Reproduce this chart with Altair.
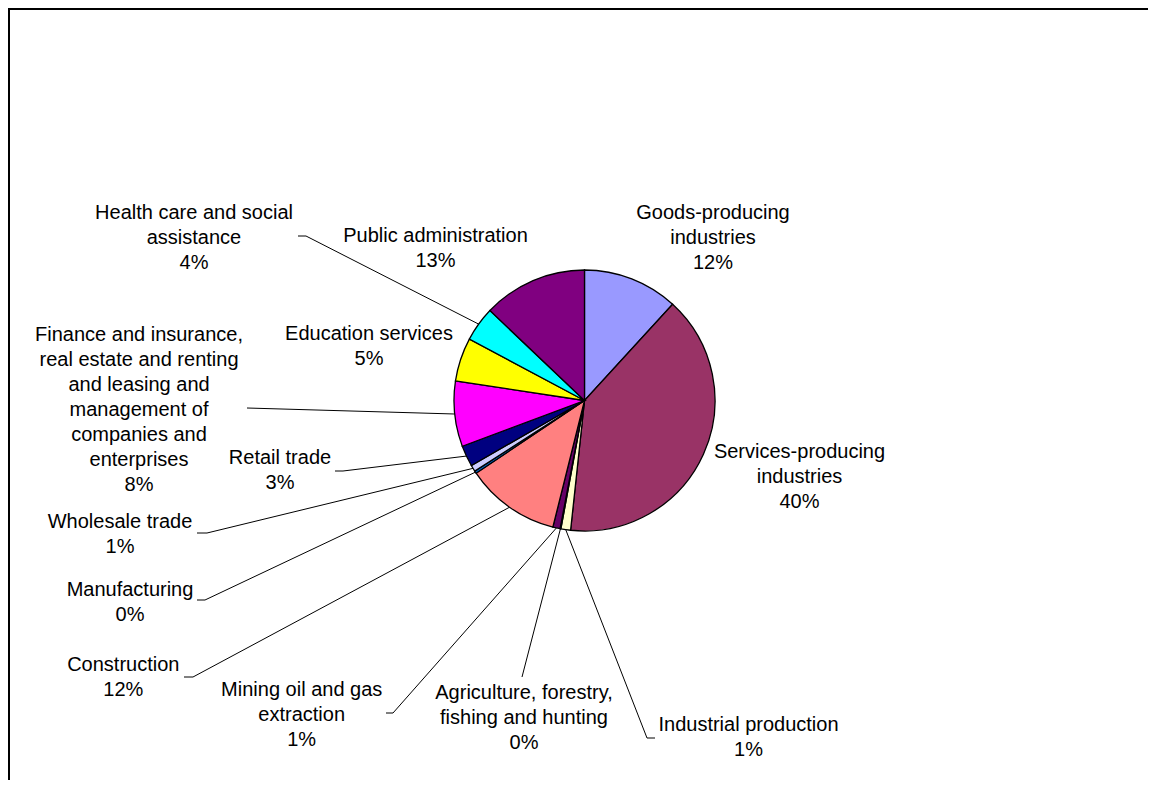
import math
import altair as alt
import pandas as pd

# ---------------- data ----------------
categories = [
    "Goods-producing industries",
    "Services-producing industries",
    "Industrial production",
    "Agriculture, forestry, fishing and hunting",
    "Mining oil and gas extraction",
    "Construction",
    "Manufacturing",
    "Wholesale trade",
    "Retail trade",
    "Finance and insurance, real estate and renting and leasing and management of companies and enterprises",
    "Education services",
    "Health care and social assistance",
    "Public administration",
]
shares = [11.8, 39.9, 1.2, 0.1, 0.9, 11.7, 0.3, 0.8, 2.6, 8.1, 5.4, 4.3, 12.9]
label_lines = [
    ["Goods-producing", "industries"],
    ["Services-producing", "industries"],
    ["Industrial production"],
    ["Agriculture, forestry,", "fishing and hunting"],
    ["Mining oil and gas", "extraction"],
    ["Construction"],
    ["Manufacturing"],
    ["Wholesale trade"],
    ["Retail trade"],
    ["Finance and insurance,", "real estate and renting", "and leasing and",
     "management of", "companies and", "enterprises"],
    ["Education services"],
    ["Health care and social", "assistance"],
    ["Public administration"],
]
colors = ["#9999FF", "#993366", "#FFFFCC", "#CCFFFF", "#660066", "#FF8080",
          "#0066CC", "#CCCCFF", "#000080", "#FF00FF", "#FFFF00", "#00FFFF", "#800080"]

# ---------------- layout (chart pixel coords) ----------------
W, H = 1140, 772
OFF = 8
CX, CY, R = 584.5 - OFF, 400.5 - OFF, 130.5
# label centre x and first-line centre y (page coords)
label_pos = [
    (713, 213.3), (799.5, 451.7), (748.5, 725), (524, 693), (301.7, 690),
    (123.3, 665), (130, 590), (120, 521.7), (280, 458.3), (139, 335),
    (369, 334), (194, 213), (435.5, 235.7),
]
# leader start and tick end (page coords); None = no leader
leader_start = [
    None, None, [(655, 738), (647, 738)], [(522, 677)], [(386, 713), (393, 713)],
    [(184, 677), (193, 677)], [(197, 600), (205, 600)], [(197, 533), (207, 533)],
    [(335, 471), (343, 471)], [(247, 408)], None, [(298, 236), (306, 236)], None,
]

# ---------------- tables ----------------
pie_df = pd.DataFrame({
    "category": categories,
    "share": shares,
    "idx": list(range(len(categories))),
})

txt_rows = []
for i, (lines, v) in enumerate(zip(label_lines, shares)):
    text = "\n".join(lines + [f"{round(v)}%"])
    txt_rows.append({"x": label_pos[i][0] - OFF, "y": label_pos[i][1] - OFF, "text": text})
txt_df = pd.DataFrame(txt_rows)

total = sum(shares)
line_rows = []
cum = 0.0
for i, v in enumerate(shares):
    mid = (cum + v / 2) / total * 2 * math.pi
    cum += v
    if leader_start[i] is None:
        continue
    pts = [(px - OFF, py - OFF) for px, py in leader_start[i]]
    pts.append((CX + R * math.sin(mid), CY - R * math.cos(mid)))
    for k, (px, py) in enumerate(pts):
        line_rows.append({"g": i, "o": k, "x": px, "y": py})
line_df = pd.DataFrame(line_rows)

FONT = "Liberation Sans"

pie = alt.Chart(pie_df).mark_arc(radius=R, stroke="black", strokeWidth=1.3).encode(
    theta=alt.Theta("share:Q", stack=True),
    order=alt.Order("idx:Q"),
    color=alt.Color("category:N", scale=alt.Scale(domain=categories, range=colors), legend=None),
    x=alt.value(CX),
    y=alt.value(CY),
)

leaders = alt.Chart(line_df).mark_line(color="black", strokeWidth=1).encode(
    x=alt.X("x:Q", scale=None, axis=None),
    y=alt.Y("y:Q", scale=None, axis=None),
    detail="g:N",
    order="o:Q",
)

labels = alt.Chart(txt_df).mark_text(
    font=FONT, fontSize=20, lineHeight=25, lineBreak="\n",
    align="center", baseline="middle", color="black",
).encode(
    x=alt.X("x:Q", scale=None, axis=None),
    y=alt.Y("y:Q", scale=None, axis=None),
    text="text:N",
)

frame_top = alt.Chart(pie_df).mark_rule(color="black", strokeWidth=2).encode(
    x=alt.value(0), x2=alt.value(W), y=alt.value(1)
)
frame_left = alt.Chart(pie_df).mark_rule(color="black", strokeWidth=2).encode(
    x=alt.value(1), y=alt.value(0), y2=alt.value(H)
)

chart = alt.layer(frame_top, frame_left, leaders, pie, labels).properties(
    width=W, height=H, autosize=alt.AutoSizeParams(type="none"), padding=0,
    background="white",
).configure_view(stroke=None)

chart.save("out.html", embed_options={"renderer": "svg", "actions": False})
